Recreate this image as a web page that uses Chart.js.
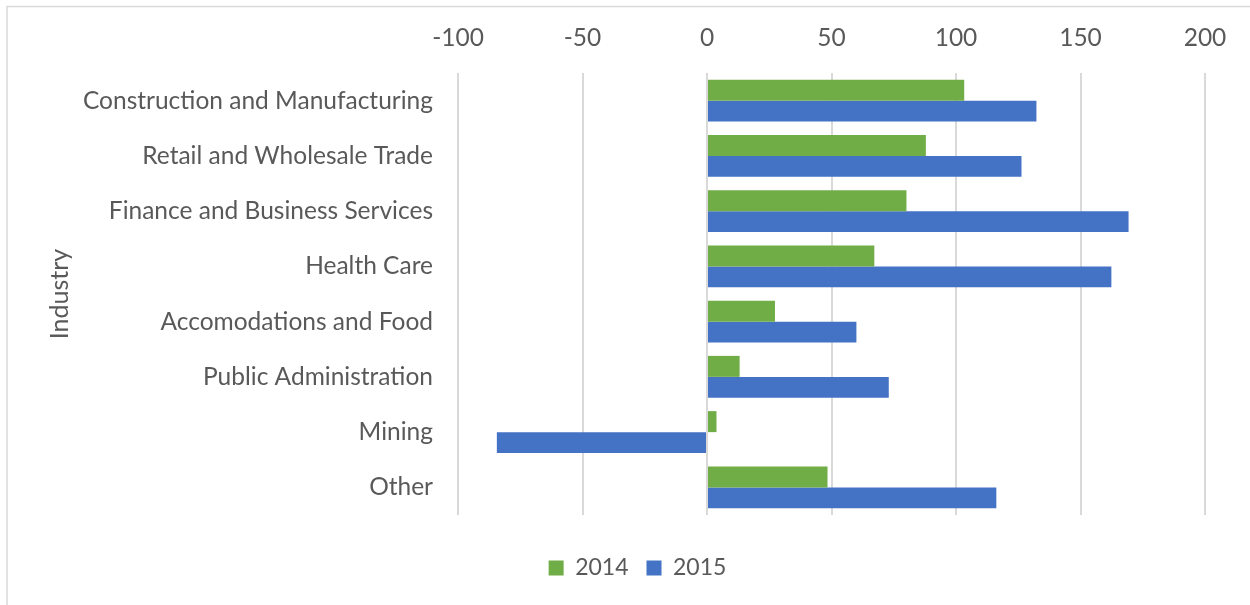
<!DOCTYPE html>
<html lang="en">
  <head>
    <meta charset="UTF-8" />
    <title>Industry change</title>
    <script src="https://cdn.jsdelivr.net/npm/chart.js"></script>
    <style>
      html, body { margin: 0; padding: 0; background: #fff; }
      .wrap { position: relative; width: 1250px; height: 605px; }
    </style>
  </head>
  <body>
    <div class="wrap">
      <canvas id="barChart"></canvas>
    </div>
    <script>
      const industries = [
        "Construction and Manufacturing",
        "Retail and Wholesale Trade",
        "Finance and Business Services",
        "Health Care",
        "Accomodations and Food",
        "Public Administration",
        "Mining",
        "Other",
      ];
      const seriesNames = ["2014", "2015"];
      const values2014 = [103.3, 87.9, 80.1, 67.2, 27.3, 13.1, 3.8, 48.4];
      const values2015 = [132.3, 126.3, 169.3, 162.4, 60, 73, -84.4, 116.2];
      const xMin = -100;
      const xMax = 200;
      const xStep = 50;

      const textColor = "#595959";
      const fontFamily = "Lato, 'Open Sans', sans-serif";

      // thin grey frame on the left and top, like the original picture
      const framePlugin = {
        id: "frame",
        beforeDraw(chart) {
          const c = chart.ctx;
          c.save();
          c.strokeStyle = "#d9d9d9";
          c.lineWidth = 1.5;
          c.beginPath();
          c.moveTo(7, chart.height);
          c.lineTo(7, 6.5);
          c.lineTo(chart.width, 6.5);
          c.stroke();
          c.restore();
        },
      };

      const ctx = document.getElementById("barChart").getContext("2d");
      new Chart(ctx, {
        type: "bar",
        plugins: [framePlugin],
        data: {
          labels: industries,
          datasets: [
            { label: seriesNames[0], data: values2014, backgroundColor: "#70AD47" },
            { label: seriesNames[1], data: values2015, backgroundColor: "#4472C4" },
          ],
        },
        options: {
          indexAxis: "y",
          responsive: true,
          maintainAspectRatio: false,
          animation: false,
          categoryPercentage: 0.76,
          barPercentage: 1,
          layout: { padding: { left: 70, right: 45, top: 0, bottom: 15.5 } },
          plugins: {
            tooltip: { enabled: false },
            legend: {
              position: "bottom",
              // empty title only used as a spacer above the legend items
              title: { display: true, text: " ", font: { size: 10 }, padding: { top: 0, bottom: 11.5 } },
              labels: {
                boxWidth: 15,
                boxHeight: 15,
                padding: 18,
                color: textColor,
                font: { family: fontFamily, size: 23 },
              },
            },
          },
          scales: {
            x: {
              position: "top",
              min: xMin,
              max: xMax,
              afterFit: (s) => { s.height = 73; },
              ticks: {
                stepSize: xStep,
                padding: 20,
                color: textColor,
                font: { family: fontFamily, size: 24.5 },
              },
              grid: { color: "#d9d9d9", lineWidth: 2, drawTicks: false },
              border: { display: false },
            },
            y: {
              afterFit: (s) => { s.width = 388; },
              ticks: {
                padding: 25,
                color: textColor,
                font: { family: fontFamily, size: 24.5 },
              },
              grid: { display: false, drawTicks: false },
              border: { display: false },
              title: {
                display: true,
                text: "Industry",
                color: textColor,
                font: { family: fontFamily, size: 25 },
                padding: { top: -25, bottom: 0 },
              },
            },
          },
        },
      });
    </script>
  </body>
</html>
